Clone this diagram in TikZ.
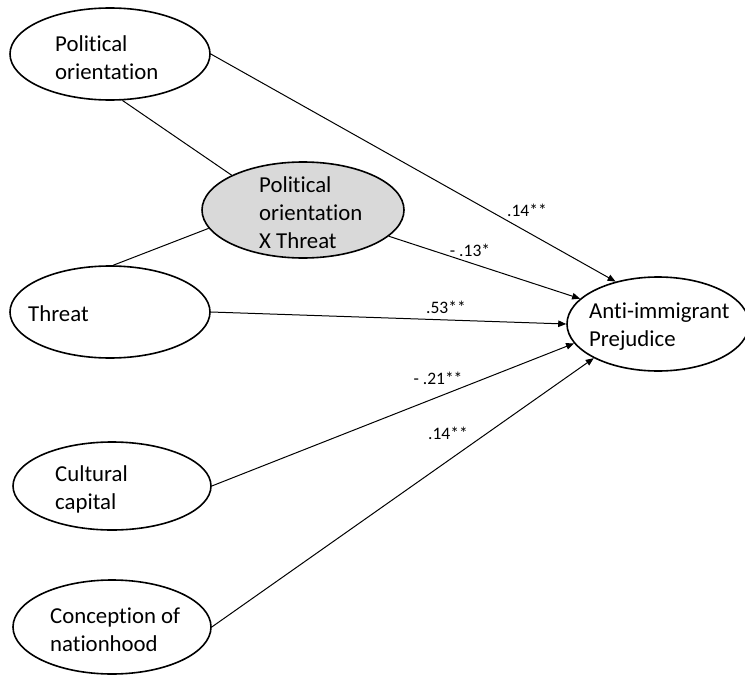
\documentclass[tikz,border=0pt]{standalone}
\usepackage{fontspec}
\setmainfont[Ligatures=NoCommon]{Carlito}
\usetikzlibrary{arrows.meta,shapes.geometric}
\definecolor{shade}{HTML}{D9D9D9}
\tikzset{
  ell/.style={draw=black, line width=1.6pt, ellipse, inner sep=0pt},
  txt/.style={anchor=west, align=left, inner sep=0pt, font=\fontsize{22.8}{28}\selectfont},
  path/.style={draw=black, line width=1pt},
  arr/.style={path, -{Triangle[length=8pt,width=6.5pt]}},
  coef/.style={inner sep=0pt, font=\fontsize{17.5}{20}\selectfont}
}
\begin{document}
\begin{tikzpicture}[x=1pt,y=-1pt]
\useasboundingbox (0,0) rectangle (745,677);
\clip (0,0) rectangle (745,677);
% ellipses
\node[ell, minimum width=200pt, minimum height=92pt] (po) at (110,54) {};
\node[ell, fill=shade, minimum width=202pt, minimum height=96pt] (pot) at (303,210) {};
\node[ell, minimum width=200pt, minimum height=92pt] (th) at (110,312) {};
\node[ell, minimum width=198pt, minimum height=88pt] (cc) at (112,486) {};
\node[ell, minimum width=198pt, minimum height=94pt] (cn) at (112,627) {};
\node[ell, minimum width=182pt, minimum height=94pt] (ai) at (658,324) {};
% texts
\node[txt] (tpo) at (55,58) {Political\\orientation};
\node[txt] (tpot) at (259,213) {Political\\orientation\\X Threat};
\node[txt] (tth) at (28,314) {Threat};
\node[txt] (tcc) at (55,489) {Cultural\\capital};
\node[txt] (tcn) at (50,630) {Conception of\\nationhood};
\node[txt] (tai) at (589,327) {Anti-immigrant\\Prejudice};
% undirected lines
\draw[path] (po.285) -- (pot.154);
\draw[path] (th.86) -- (pot.191);
% arrows
\draw[arr] (po.east) -- (ai.135);
\draw[arr] (pot.343) -- (ai.162);
\draw[arr] (th.east) -- (ai.180);
\draw[arr] (cc.east) -- (ai.193);
\draw[arr] (cn.east) -- (ai.208);
% coefficients
\node[coef] (l1) at (527,210) {.14**};
\node[coef] (l2) at (470,250) {- .13*};
\node[coef] (l3) at (446,307) {.53**};
\node[coef] (l4) at (438,378) {- .21**};
\node[coef] (l5) at (448,433) {.14**};
\end{tikzpicture}
\end{document}
